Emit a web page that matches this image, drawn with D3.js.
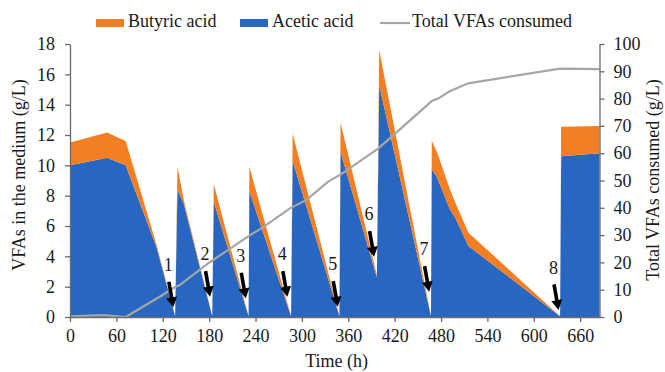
<!DOCTYPE html>
<html>
<head>
<meta charset="utf-8">
<script src="https://cdn.jsdelivr.net/npm/d3@7"></script>
<style>
  body { margin: 0; background: #fff; }
  svg text { font-family: "Liberation Serif", "Times New Roman", serif; fill: #1a1a1a; }
  .axis path, .axis line { stroke: #6b6b6b; }
</style>
</head>
<body>
<div id="chart"></div>
<script>
// Time points (h) and concentrations (g/L) of each acid
const time     = [0, 48, 72, 112, 136, 139, 147, 184, 186, 231, 232, 286, 288, 348.5, 350, 397, 400, 467, 468, 474.6, 491.8, 498, 515.5, 634, 635.4, 685];
const acetic   = [10.0, 10.5, 10.0, 4.6, 0.05, 8.4, 7.5, 0.05, 7.6, 0.05, 8.3, 0.05, 10.3, 0.05, 10.9, 2.6, 15.3, 0.05, 9.74, 9.25, 7.05, 6.6, 4.68, 0.05, 10.6, 10.8];
const butyric  = [1.5, 1.67, 1.6, 0.15, 0, 1.5, 0.25, 0, 1.17, 0, 1.6, 0, 1.8, 0, 1.9, 0.17, 2.3, 0, 1.88, 1.65, 1.32, 1.0, 0.88, 0, 1.95, 1.8];

// Total VFAs consumed (right axis)
const consTime  = [0, 43, 72, 116, 136, 142, 179, 233, 246, 285, 306, 334, 349, 399, 468, 477, 490, 515, 634, 685];
const consumed  = [0.2, 0.7, 0, 7.4, 11, 11.7, 19.7, 30, 32.2, 39.9, 42.9, 49.6, 52, 61.8, 79.1, 80.1, 82.5, 85.6, 91.0, 90.8];

// Feeding arrows: tip position (time, g/L) and label
const arrowTime  = [133.7, 181.2, 227.4, 281.2, 346.4, 393.4, 464.6, 632];
const arrowValue = [0.64, 1.34, 1.23, 1.34, 0.68, 3.97, 1.67, 0.46];
const arrowLabel = ["1", "2", "3", "4", "5", "6", "7", "8"];

const xTicks = d3.range(0, 661, 60);
const yTicks = d3.range(0, 19, 2);
const y2Ticks = d3.range(0, 101, 10);

const colors = { butyric: "#F47F22", acetic: "#2867C1", total: "#A6A6A6" };
const fontSize = "18px";

const W = 665, H = 372;
const margin = {top: 44, right: 65.5, bottom: 55, left: 70},
    width = W - margin.left - margin.right,
    height = H - margin.top - margin.bottom;

const svg = d3.select("#chart")
  .append("svg")
    .attr("width", W)
    .attr("height", H);

const g = svg.append("g")
    .attr("transform", `translate(${margin.left},${margin.top})`);

const x = d3.scaleLinear().domain([0, 685]).range([0, width]);
const y = d3.scaleLinear().domain([0, 18]).range([height, 0]);
const y2 = d3.scaleLinear().domain([0, 100]).range([height, 0]);

// Stacked areas
const rows = time.map((t, i) => ({t: t, acetic: acetic[i], butyric: butyric[i]}));
const stack = d3.stack().keys(["acetic", "butyric"]);
const series = stack(rows);

const area = d3.area()
    .x(d => x(d.data.t))
    .y0(d => y(d[0]))
    .y1(d => y(d[1]));

g.selectAll(".layer")
  .data(series)
  .join("path")
    .attr("class", "layer")
    .attr("d", area)
    .attr("fill", d => colors[d.key]);

// Consumed line
const line = d3.line()
    .x((d, i) => x(consTime[i]))
    .y(d => y2(d));

g.append("path")
    .datum(consumed)
    .attr("d", line)
    .attr("fill", "none")
    .attr("stroke", colors.total)
    .attr("stroke-width", 2.2);

// Arrows
const vec = [4.5, 25.5];
const vlen = Math.hypot(vec[0], vec[1]);
const ux = vec[0] / vlen, uy = vec[1] / vlen;
const arrowLen = 26, headLen = 10, headW = 5.5;

arrowTime.forEach((t, i) => {
    const tx = x(t), ty = y(arrowValue[i]);
    const sx = tx - ux * arrowLen, sy = ty - uy * arrowLen;
    const bx = tx - ux * headLen, by = ty - uy * headLen;
    g.append("line")
        .attr("x1", sx).attr("y1", sy)
        .attr("x2", bx + ux * 1).attr("y2", by + uy * 1)
        .attr("stroke", "#000")
        .attr("stroke-width", 3.6);
    g.append("path")
        .attr("d", `M${tx},${ty}L${bx - uy * headW},${by + ux * headW}L${bx + uy * headW},${by - ux * headW}Z`)
        .attr("fill", "#000");
    g.append("text")
        .attr("x", sx - 0.5)
        .attr("y", sy - 15)
        .attr("text-anchor", "middle")
        .attr("dominant-baseline", "middle")
        .style("font-size", fontSize)
        .text(arrowLabel[i]);
});

// Axes
g.append("g")
    .attr("class", "axis")
    .attr("transform", `translate(0,${height})`)
    .call(d3.axisBottom(x).tickValues(xTicks).tickSize(5).tickSizeOuter(0).tickPadding(7));

g.append("g")
    .attr("class", "axis")
    .call(d3.axisLeft(y).tickValues(yTicks).tickSize(5).tickSizeOuter(0).tickPadding(10));

g.append("g")
    .attr("class", "axis")
    .attr("transform", `translate(${width},0)`)
    .call(d3.axisRight(y2).tickValues(y2Ticks).tickSize(5).tickSizeOuter(0).tickPadding(9));

g.selectAll(".axis text")
    .style("font-size", fontSize)
    .style("font-family", "'Liberation Serif', serif")
    .attr("fill", "#1a1a1a");
g.selectAll(".axis path").attr("stroke", "#6b6b6b").attr("stroke-width", 1.3);
g.selectAll(".axis line").attr("stroke", "#6b6b6b").attr("stroke-width", 1.3);

// Axis titles
svg.append("text")
    .attr("x", margin.left + x(345))
    .attr("y", 363)
    .attr("text-anchor", "middle")
    .attr("dominant-baseline", "middle")
    .style("font-size", fontSize)
    .text("Time (h)");

svg.append("text")
    .attr("transform", `translate(21,175) rotate(-90)`)
    .attr("text-anchor", "middle")
    .attr("dominant-baseline", "middle")
    .style("font-size", fontSize)
    .text("VFAs in the medium (g/L)");

svg.append("text")
    .attr("transform", `translate(655,180) rotate(-90)`)
    .attr("text-anchor", "middle")
    .attr("dominant-baseline", "middle")
    .style("font-size", fontSize)
    .text("Total VFAs consumed (g/L)");

// Legend
const legend = svg.append("g");
const legendItems = [
    {label: "Butyric acid", color: colors.butyric, type: "rect", x: 96},
    {label: "Acetic acid", color: colors.acetic, type: "rect", x: 240},
    {label: "Total VFAs consumed", color: colors.total, type: "line", x: 380}
];
legendItems.forEach(d => {
    if (d.type === "rect") {
        legend.append("rect")
            .attr("x", d.x).attr("y", 19)
            .attr("width", 28).attr("height", 8)
            .attr("fill", d.color);
    } else {
        legend.append("line")
            .attr("x1", d.x).attr("x2", d.x + 30)
            .attr("y1", 23).attr("y2", 23)
            .attr("stroke", d.color)
            .attr("stroke-width", 2.2);
    }
    legend.append("text")
        .attr("x", d.x + 32)
        .attr("y", 23)
        .attr("dominant-baseline", "middle")
        .style("font-size", fontSize)
        .text(d.label);
});
</script>
</body>
</html>
